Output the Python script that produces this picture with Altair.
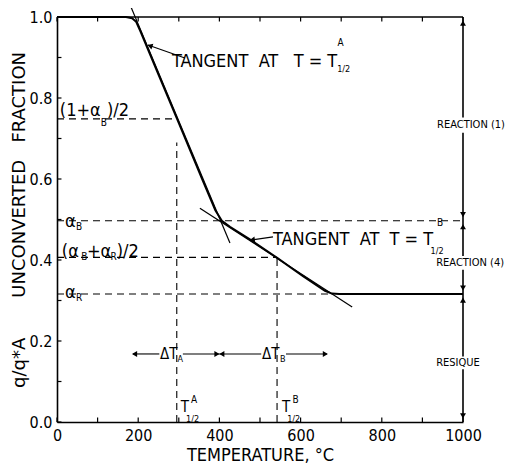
import altair as alt
import pandas as pd

FONT = "DejaVu Sans Condensed, Liberation Sans Narrow, DejaVu Sans"
NB = "\u00a0"

# ---- main curve (temperature, unconverted fraction) ----
curve_T = [0, 100, 170, 185, 195, 205, 250, 296, 357, 390, 406, 426, 475, 544, 606, 660, 677, 695, 800, 1000]
curve_F = [1.0, 1.0, 1.0, 0.997, 0.988, 0.966, 0.858, 0.748, 0.601, 0.523, 0.497, 0.482, 0.451, 0.404, 0.360, 0.324, 0.317, 0.316, 0.316, 0.316]

# ---- characteristic values ----
alpha_B = 0.497
alpha_R = 0.316
half_A = (1 + alpha_B) / 2
half_B = (alpha_B + alpha_R) / 2
T_half_A = 295
T_half_B = 542
T_knee_R = 677

# ---- tangents ----
tanA_T = [180, 426]
tanA_F = [1.03, 0.442]
tanB_T = [352, 727]
tanB_F = [0.528, 0.284]

# ---- axis ticks ----
x_labels = [0, 200, 400, 600, 800, 1000]
y_labels = [0.0, 0.2, 0.4, 0.6, 0.8, 1.0]
x_minor = [0, 100, 200, 300, 400, 500, 600, 700, 800, 900, 1000]
y_minor = [0.0, 0.1, 0.2, 0.3, 0.4, 0.5, 0.6, 0.7, 0.8, 0.9, 1.0]

# ---- dashed guide lines (x, x2, y, y2) ----
guide_x = [0, 0, 0, 0, T_half_A, T_half_B]
guide_x2 = [T_half_A, 1000, T_half_B, T_knee_R, T_half_A, T_half_B]
guide_y = [half_A, alpha_B, half_B, alpha_R, 0.0, 0.0]
guide_y2 = [half_A, alpha_B, half_B, alpha_R, 0.69, half_B]

# ---- delta T dimension line segments ----
dT_level = 0.168
dT_x = [187, 310, 400, 564]
dT_x2 = [252, 400, 503, 665]

# ---- right-hand reaction bracket segments at T=1000 ----
br_y = [1.0, 0.714, 0.376, 0.130]
br_y2 = [0.752, 0.410, 0.162, 0.0]

# ---- arrowheads ----
arrow_T = [191, 394, 406, 661, 1000, 1000, 1000, 1000, 1000, 1000, 229, 481]
arrow_F = [dT_level, dT_level, dT_level, dT_level, 0.985, 0.512, 0.482, 0.331, 0.301, 0.015, 0.929, 0.450]
arrow_shape = ["triangle-left", "triangle-right", "triangle-left", "triangle-right",
               "triangle-up", "triangle-down", "triangle-up", "triangle-down", "triangle-up", "triangle-down",
               "triangle-up", "triangle-up"]
arrow_angle = [0, 0, 0, 0, 0, 0, 0, 0, 0, 0, 289, 263]

# ---- leader lines from labels to tangents ----
lead_x = [224, 475]
lead_x2 = [315, 532]
lead_y = [0.931, 0.449]
lead_y2 = [0.899, 0.457]

# ---- annotation texts ----
ann_text = ["TANGENT" + NB * 2 + "AT" + NB * 3 + "T = T", "A", "1/2",
            "TANGENT" + NB * 2 + "AT" + NB * 2 + "T = T", "B", "1/2",
            "(1+α", "B", ")/2",
            "α", "B",
            "(α", "B", "+α", "R", ")/2",
            "α", "R",
            "ΔT", "A", "ΔT", "B",
            "T", "A", "1/2", "T", "B", "1/2",
            "REACTION (1)", "REACTION (4)", "RESIQUE"]
ann_T = [283, 691, 690,
         532, 936, 920,
         7, 108, 123,
         20, 47,
         12, 60, 74, 132, 147,
         20, 47,
         254, 297, 505, 549,
         305, 330, 318, 554, 580, 567,
         936, 934, 934]
ann_F = [0.890, 0.937, 0.872,
         0.449, 0.491, 0.422,
         0.768, 0.738, 0.768,
         0.494, 0.481,
         0.420, 0.407, 0.420, 0.407, 0.420,
         0.319, 0.306,
         0.168, 0.156, 0.168, 0.156,
         0.037, 0.055, 0.008, 0.037, 0.055, 0.008,
         0.733, 0.393, 0.146]
ann_size = [18, 10, 9,
            18, 10, 9,
            18, 10, 18,
            18, 10,
            18, 10, 18, 10, 18,
            18, 10,
            15, 9, 15, 9,
            15, 10, 9, 15, 10, 9,
            11, 11, 11]

xs = alt.Scale(domain=[0, 1000], nice=False, zero=False)
ys = alt.Scale(domain=[0, 1], nice=False, zero=False)

y_title = "q/q*A" + NB * 7 + "UNCONVERTED" + NB * 3 + "FRACTION"

curve_df = pd.DataFrame({"T": curve_T, "F": curve_F})
base = alt.Chart(curve_df).mark_line(color="black", strokeWidth=2).encode(
    x=alt.X("T:Q", scale=xs, axis=alt.Axis(
        values=x_labels, format="d", ticks=False, grid=False, domainColor="black", domainWidth=1.6,
        labelFont=FONT, labelFontSize=16, labelColor="black", labelPadding=5, labelFlush=False,
        title="TEMPERATURE, °C", titleFont=FONT, titleFontSize=18, titleFontWeight="normal",
        titleColor="black", titlePadding=3)),
    y=alt.Y("F:Q", scale=ys, axis=alt.Axis(
        values=y_labels, format=".1f", ticks=False, grid=False, domainColor="black", domainWidth=1.6,
        labelFont=FONT, labelFontSize=16, labelColor="black", labelPadding=5,
        title=y_title, titleFont="DejaVu Sans", titleFontSize=18,
        titleFontWeight="normal", titleColor="black", titlePadding=1)),
)

tanA = alt.Chart(pd.DataFrame({"T": tanA_T, "F": tanA_F})).mark_line(color="black", strokeWidth=1.2).encode(
    x=alt.X("T:Q", scale=xs), y=alt.Y("F:Q", scale=ys))
tanB = alt.Chart(pd.DataFrame({"T": tanB_T, "F": tanB_F})).mark_line(color="black", strokeWidth=1.2).encode(
    x=alt.X("T:Q", scale=xs), y=alt.Y("F:Q", scale=ys))

guides = alt.Chart(pd.DataFrame({"x": guide_x, "x2": guide_x2, "y": guide_y, "y2": guide_y2})).mark_rule(
    color="black", strokeWidth=1.1, strokeDash=[7, 5]).encode(
    x=alt.X("x:Q", scale=xs), x2="x2:Q", y=alt.Y("y:Q", scale=ys), y2="y2:Q")

dT = alt.Chart(pd.DataFrame({"x": dT_x, "x2": dT_x2, "y": [dT_level] * len(dT_x)})).mark_rule(
    color="black", strokeWidth=1.1).encode(
    x=alt.X("x:Q", scale=xs), x2="x2:Q", y=alt.Y("y:Q", scale=ys))

bracket = alt.Chart(pd.DataFrame({"x": [1000] * len(br_y), "y": br_y, "y2": br_y2})).mark_rule(
    color="black", strokeWidth=1.6).encode(
    x=alt.X("x:Q", scale=xs), y=alt.Y("y:Q", scale=ys), y2="y2:Q")

top_frame = alt.Chart(pd.DataFrame({"x": [0], "x2": [1000], "y": [1.0]})).mark_rule(
    color="black", strokeWidth=1.6).encode(
    x=alt.X("x:Q", scale=xs), x2="x2:Q", y=alt.Y("y:Q", scale=ys))

xt = pd.DataFrame({"x": x_minor * 2, "y": [0.0] * len(x_minor) + [0.989] * len(x_minor),
                   "y2": [0.011] * len(x_minor) + [1.0] * len(x_minor)})
xticks = alt.Chart(xt).mark_rule(color="black", strokeWidth=1.2).encode(
    x=alt.X("x:Q", scale=xs), y=alt.Y("y:Q", scale=ys), y2="y2:Q")
yt = pd.DataFrame({"x": [0] * len(y_minor), "x2": [11] * len(y_minor), "y": y_minor})
yticks = alt.Chart(yt).mark_rule(color="black", strokeWidth=1.2).encode(
    x=alt.X("x:Q", scale=xs), x2="x2:Q", y=alt.Y("y:Q", scale=ys))

leaders = alt.Chart(pd.DataFrame({"x": lead_x, "x2": lead_x2, "y": lead_y, "y2": lead_y2})).mark_rule(
    color="black", strokeWidth=1.1).encode(
    x=alt.X("x:Q", scale=xs), x2="x2:Q", y=alt.Y("y:Q", scale=ys), y2="y2:Q")

arrows = alt.Chart(pd.DataFrame({"T": arrow_T, "F": arrow_F, "shape": arrow_shape, "angle": arrow_angle})).mark_point(
    filled=True, color="black", size=35, opacity=1).encode(
    x=alt.X("T:Q", scale=xs), y=alt.Y("F:Q", scale=ys),
    shape=alt.Shape("shape:N", scale=None), angle=alt.Angle("angle:Q", scale=None))

texts = alt.Chart(pd.DataFrame({"T": ann_T, "F": ann_F, "text": ann_text, "size": ann_size})).mark_text(
    align="left", baseline="middle", font=FONT, color="black").encode(
    x=alt.X("T:Q", scale=xs), y=alt.Y("F:Q", scale=ys), text="text:N",
    size=alt.Size("size:Q", scale=None))

chart = alt.layer(
    guides, dT, bracket, top_frame, xticks, yticks, tanA, tanB, base, leaders, arrows, texts
).properties(
    width=406, height=405,
    autosize=alt.AutoSizeParams(type="none"),
    padding={"left": 49, "top": 9, "right": 45, "bottom": 43},
    background="white",
).configure_view(stroke=None)

chart.save("out.html", embed_options={"renderer": "svg", "actions": False})
